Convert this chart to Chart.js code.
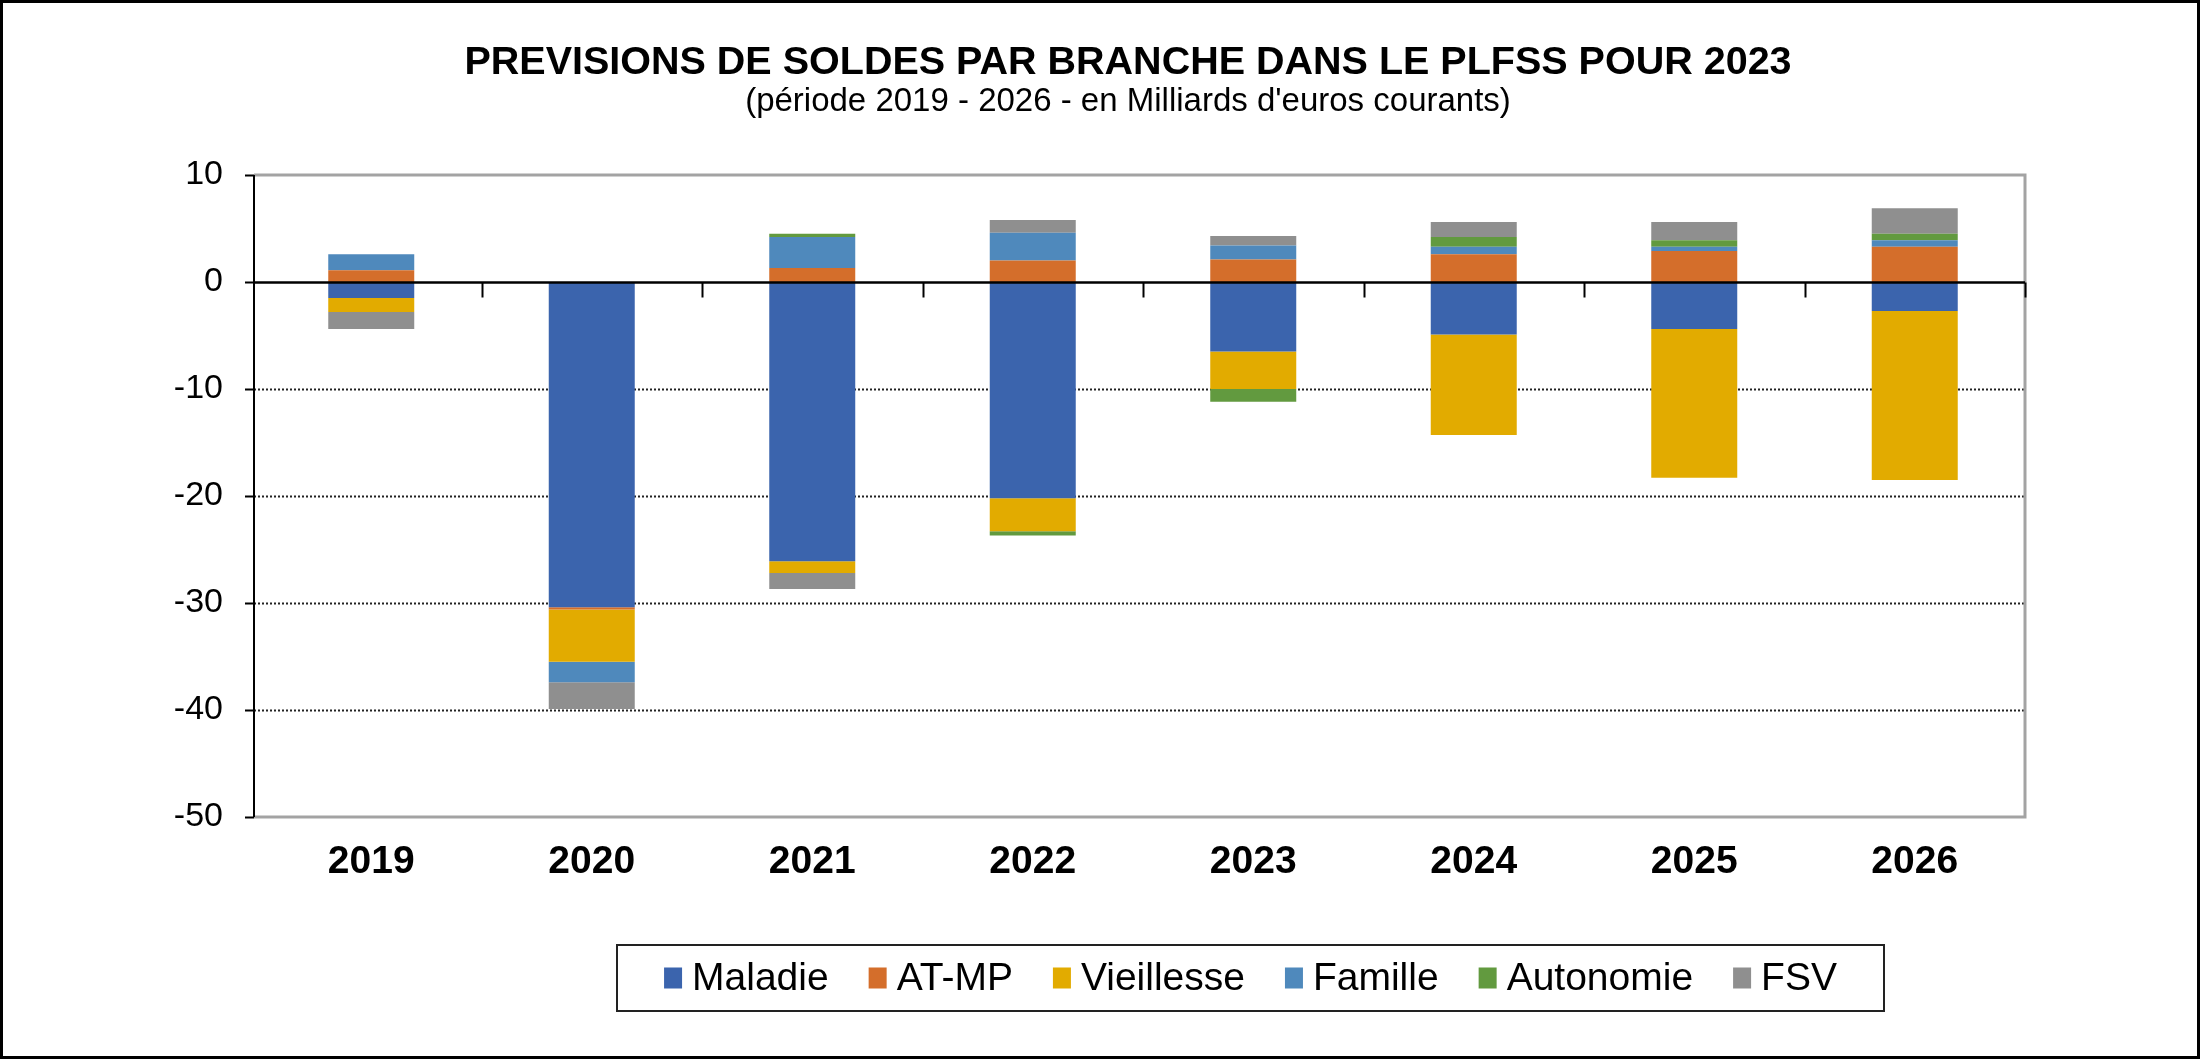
<!DOCTYPE html>
<html>
<head>
<meta charset="utf-8">
<script src="https://cdn.jsdelivr.net/npm/chart.js@4"></script>
<style>
  html, body { margin: 0; padding: 0; background: #fff; overflow: hidden; }
  canvas { display: block; }
</style>
</head>
<body>
<canvas id="soldes" width="2200" height="1059"></canvas>
<script>
// ----- data (Mds d'euros courants) -----
const years = ['2019', '2020', '2021', '2022', '2023', '2024', '2025', '2026'];
const maladie    = [-1.5, -30.4, -26.1, -20.2, -6.5, -4.9, -4.4, -2.7];
const atmp       = [1.1, -0.2, 1.3, 2.0, 2.1, 2.6, 2.9, 3.3];
const vieillesse = [-1.3, -4.9, -1.1, -3.1, -3.5, -9.4, -13.9, -15.8];
const famille    = [1.5, -1.9, 2.9, 2.6, 1.3, 0.7, 0.4, 0.6];
const autonomie  = [0, 0, 0.3, -0.4, -1.2, 0.9, 0.6, 0.6];
const fsv        = [-1.6, -2.5, -1.5, 1.2, 0.9, 1.4, 1.7, 2.4];
const yTicks = [10, 0, -10, -20, -30, -40, -50];

const TITLE = 'PREVISIONS DE SOLDES PAR BRANCHE DANS LE PLFSS POUR 2023';
const SUBTITLE = "(période 2019 - 2026 - en Milliards d'euros courants)";
const FONT = "'Liberation Sans', Arial, sans-serif";
const AXIS_SHIFT = 7; // y axis line sits a little left of the first category

// ----- decorations: frame, axes, grid, zero line, title, legend -----
const decor = {
  id: 'decor',
  beforeDraw(chart) {
    const ctx = chart.ctx;
    ctx.save();
    ctx.fillStyle = '#fff';
    ctx.fillRect(0, 0, chart.width, chart.height);
    ctx.strokeStyle = '#000';
    ctx.lineWidth = 3;
    ctx.strokeRect(1.5, 1.5, chart.width - 3, chart.height - 3);
    ctx.restore();
  },
  beforeDatasetsDraw(chart) {
    const { ctx, chartArea: a } = chart;
    const y = chart.scales.y;
    const left = a.left - AXIS_SHIFT;
    ctx.save();
    // dotted grid
    ctx.strokeStyle = '#222';
    ctx.lineWidth = 2;
    ctx.setLineDash([2, 2]);
    yTicks.filter(v => v < 0 && v > -50).forEach(v => {
      const py = Math.round(y.getPixelForValue(v)) + 0.5;
      ctx.beginPath();
      ctx.moveTo(left, py);
      ctx.lineTo(a.right, py);
      ctx.stroke();
    });
    ctx.setLineDash([]);
    // grey frame top / right / bottom
    ctx.strokeStyle = '#a3a3a3';
    ctx.lineWidth = 3;
    ctx.beginPath();
    ctx.moveTo(left, a.top);
    ctx.lineTo(a.right, a.top);
    ctx.lineTo(a.right, a.bottom);
    ctx.lineTo(left, a.bottom);
    ctx.stroke();
    // y axis line + outer ticks
    ctx.strokeStyle = '#000';
    ctx.lineWidth = 2;
    ctx.beginPath();
    ctx.moveTo(left, a.top);
    ctx.lineTo(left, a.bottom);
    yTicks.forEach(v => {
      const py = Math.round(y.getPixelForValue(v)) + 0.5;
      ctx.moveTo(left - 9, py);
      ctx.lineTo(left, py);
    });
    ctx.stroke();
    ctx.restore();
  },
  afterDatasetsDraw(chart) {
    const { ctx, chartArea: a } = chart;
    const x = chart.scales.x, y = chart.scales.y;
    const y0 = Math.round(y.getPixelForValue(0)) + 0.5;
    ctx.save();
    ctx.strokeStyle = '#000';
    ctx.lineWidth = 2.5;
    ctx.beginPath();
    ctx.moveTo(a.left - AXIS_SHIFT, y0);
    ctx.lineTo(a.right, y0);
    ctx.stroke();
    // tick marks between categories
    ctx.lineWidth = 2;
    for (let i = 1; i <= years.length; i++) {
      const px = i < years.length
        ? (x.getPixelForTick(i - 1) + x.getPixelForTick(i)) / 2
        : a.right;
      ctx.beginPath();
      ctx.moveTo(Math.round(px) + 0.5, y0);
      ctx.lineTo(Math.round(px) + 0.5, y0 + 15);
      ctx.stroke();
    }
    ctx.restore();
  },
  afterDraw(chart) {
    const ctx = chart.ctx;
    ctx.save();
    ctx.fillStyle = '#000';
    ctx.textAlign = 'center';
    ctx.textBaseline = 'middle';
    ctx.font = 'bold 39.5px ' + FONT;
    ctx.fillText(TITLE, 1128, 63);
    ctx.font = '33px ' + FONT;
    ctx.fillText(SUBTITLE, 1128, 102);

    // legend box
    const box = { l: 617, t: 945, r: 1884, b: 1011 };
    ctx.strokeStyle = '#222';
    ctx.lineWidth = 2;
    ctx.strokeRect(box.l, box.t, box.r - box.l, box.b - box.t);
    ctx.font = '39px ' + FONT;
    ctx.textAlign = 'left';
    const sw = 18, sh = 21, gapText = 10, gapItem = 40;
    const items = chart.data.datasets.map(ds => ({ text: ds.label, color: ds.backgroundColor, w: ctx.measureText(ds.label).width }));
    const total = items.reduce((s, it) => s + sw + gapText + it.w, 0) + gapItem * (items.length - 1);
    let cx = (box.l + box.r) / 2 - total / 2;
    const cy = (box.t + box.b) / 2;
    items.forEach(it => {
      ctx.fillStyle = it.color;
      ctx.fillRect(cx, cy - sh / 2, sw, sh);
      ctx.fillStyle = '#000';
      ctx.fillText(it.text, cx + sw + gapText, cy + 1);
      cx += sw + gapText + it.w + gapItem;
    });
    ctx.restore();
  }
};

const mk = (label, data, color) => ({ label, data, backgroundColor: color, borderWidth: 0 });

new Chart(document.getElementById('soldes'), {
  type: 'bar',
  data: {
    labels: years,
    datasets: [
      mk('Maladie', maladie, '#3b64ad'),
      mk('AT-MP', atmp, '#d46e2b'),
      mk('Vieillesse', vieillesse, '#e2ab00'),
      mk('Famille', famille, '#4f89bc'),
      mk('Autonomie', autonomie, '#629a3f'),
      mk('FSV', fsv, '#8f8f8f')
    ]
  },
  options: {
    responsive: false,
    animation: false,
    devicePixelRatio: 1,
    layout: { padding: { left: 121, right: 175, top: 175, bottom: 162 } },
    barPercentage: 0.39,
    categoryPercentage: 1,
    plugins: {
      legend: { display: false },
      title: { display: false },
      tooltip: { enabled: false }
    },
    scales: {
      x: {
        stacked: true,
        grid: { display: false },
        border: { display: false },
        ticks: { color: '#000', font: { family: FONT, size: 39, weight: 'bold' }, padding: 14 },
        afterFit: s => { s.height = 80; }
      },
      y: {
        stacked: true,
        min: -50,
        max: 10,
        ticks: { stepSize: 10, color: '#000', font: { family: FONT, size: 34 }, padding: 30 },
        grid: { display: false },
        border: { display: false },
        afterFit: s => { s.width = 140; }
      }
    }
  },
  plugins: [decor]
});
</script>
</body>
</html>
